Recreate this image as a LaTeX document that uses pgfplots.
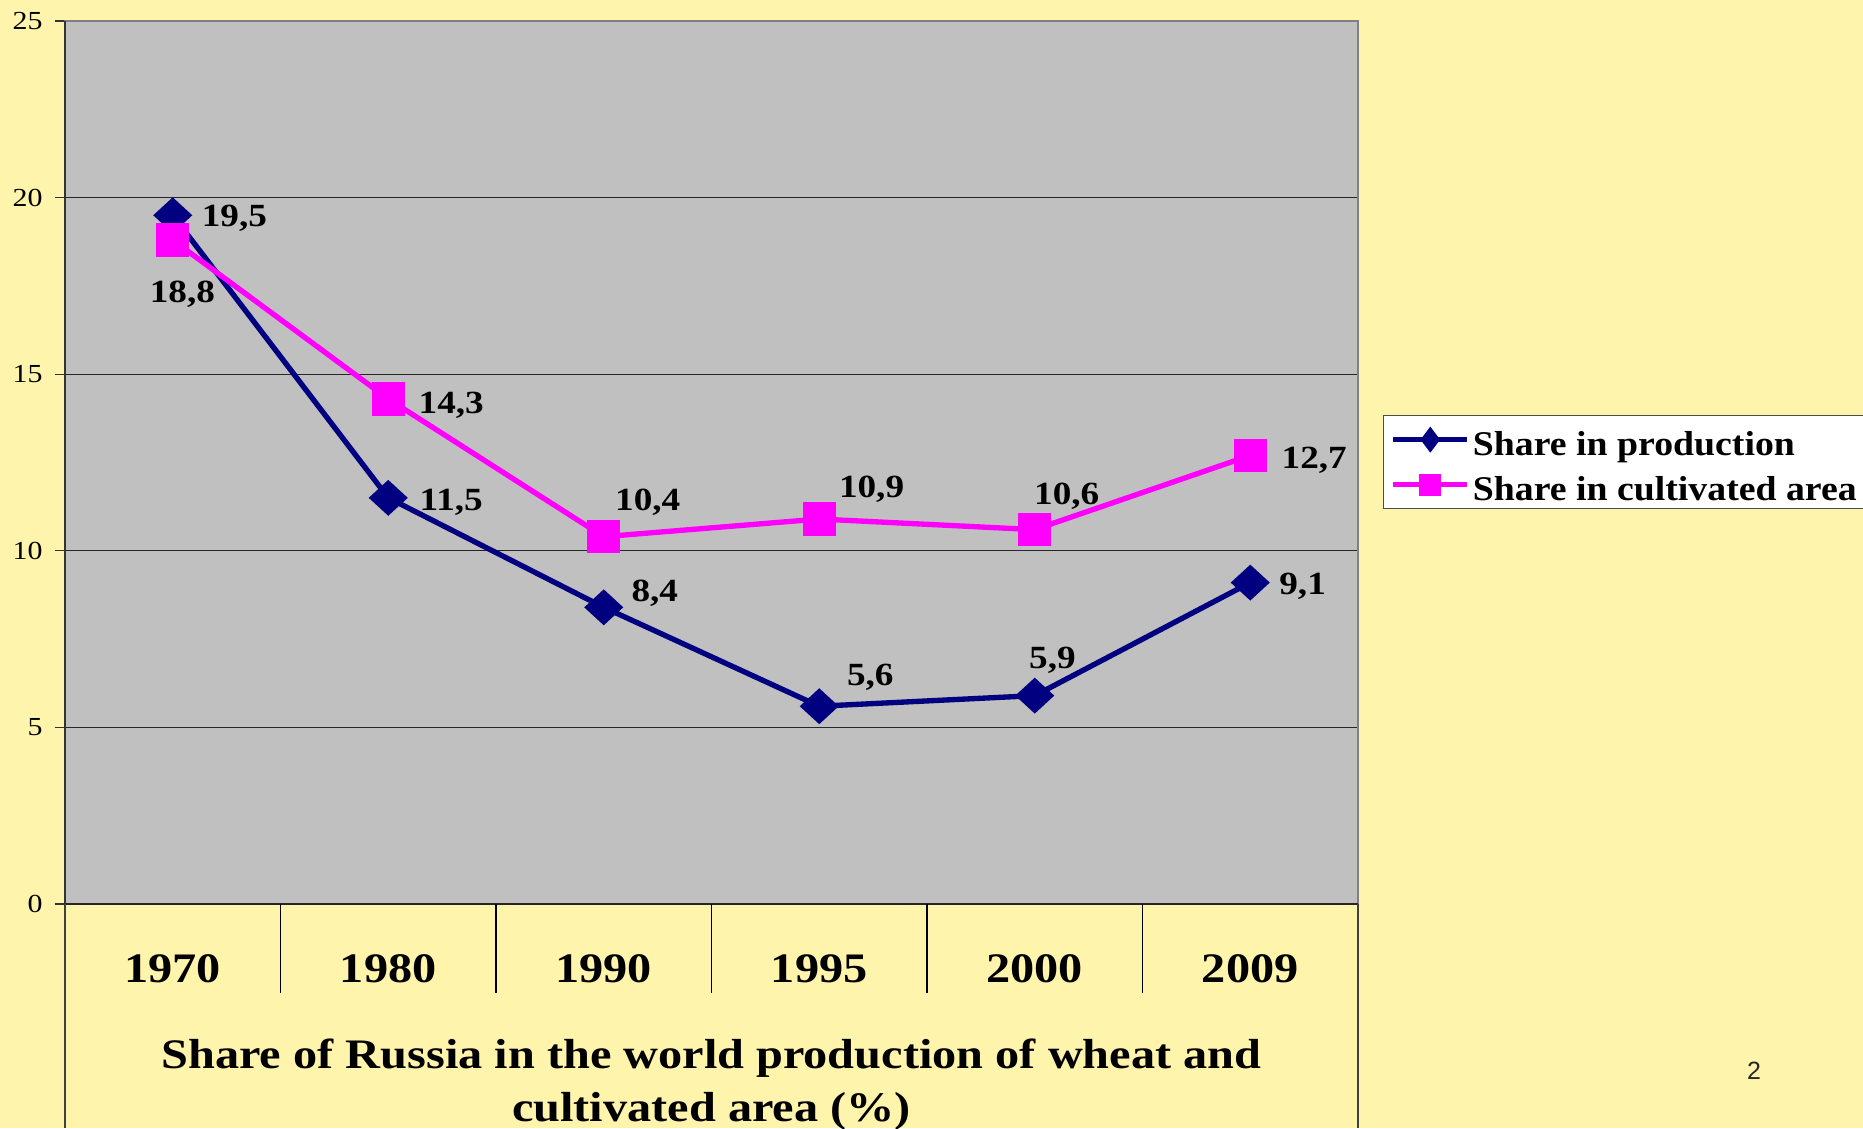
\documentclass[border=0pt]{standalone}
\usepackage{fontspec}
\setmainfont{Liberation Serif}[FakeStretch=1.15]
\newfontfamily\legfont{Liberation Serif}[FakeStretch=1.09]
\newfontfamily\sansf{Liberation Sans}
\usepackage{pgfplots}
\usepackage{pgfplotstable}
\pgfplotsset{compat=1.18}
\definecolor{bgy}{HTML}{FFF4AC}
\definecolor{plotgray}{HTML}{C0C0C0}
\definecolor{navyc}{HTML}{000080}
\definecolor{magc}{HTML}{FF00FF}

\pgfplotstableread{
x y lab dx dy
0 19.5 19,5 18.5 -1.0
1 11.5 11,5 18.9 -1.4
2 8.4 8,4 15.3 4.3
3 5.6 5,6 15.3 8.6
4 5.9 5,9 5.3 10.7
5 9.1 9,1 15.7 -1.1
}\prodtab
\pgfplotstableread{
x y lab dx dy
0 18.8 18,8 2.9 -16.4
1 14.3 14,3 18.9 -1.8
2 10.4 10,4 13.2 10.3
3 10.9 10,9 15.7 8.9
4 10.6 10,6 9.6 10.0
5 12.7 12,7 19.2 -1.4
}\areatab

\begin{document}
\begin{tikzpicture}
\useasboundingbox (-19.5pt,-67.2pt) rectangle (539.4pt,271.2pt);
\fill[bgy] (-19.5pt,-67.2pt) rectangle (539.4pt,271.2pt);
\begin{axis}[
  at={(0,0)}, anchor=south west,
  scale only axis, width=387.9pt, height=264.9pt,
  xmin=-0.5, xmax=5.5, ymin=0, ymax=25,
  xtick={0,...,5}, xticklabels={1970,1980,1990,1995,2000,2009},
  ytick={0,5,...,25},
  axis background/.style={fill=plotgray},
  axis line style={draw=black!50, line width=0.6pt},
  ymajorgrids, major grid style={draw=black!85, line width=0.4pt},
  major x tick style={draw=none},
  ytick pos=left, tick align=outside, major tick length=3pt,
  major y tick style={draw=black!80, line width=0.4pt},
  /pgf/number format/assume math mode=true,
  yticklabel style={font=\fontsize{7.8}{9}\selectfont, xshift=-0.2pt},
  xticklabel style={font=\bfseries\fontsize{12.6}{15}\selectfont, anchor=center, yshift=-16.3pt},
  clip=false,
  legend style={at={(1.0193,0.5538)}, anchor=north west, draw=black!70, fill=white,
    font=\legfont\bfseries\fontsize{10.4}{12.6}\selectfont, inner xsep=2.1pt, inner ysep=1.4pt,
    row sep=1.9pt,
    nodes={inner xsep=0.9pt, inner ysep=1pt, text height=9.6pt, text depth=0pt}},
  legend cell align=left,
  legend image code/.code={\draw[mark repeat=2,mark phase=2,#1,mark options={scale=0.6}] plot coordinates {(0cm,0cm)(0.39cm,0cm)(0.78cm,0cm)};},
  nodes near coords,
  point meta=explicit symbolic,
  every node near coord/.append style={font=\bfseries\fontsize{9.7}{11}\selectfont, text=black},
]
\addplot[navyc, line width=1.6pt, mark=diamond*, mark size=4.3pt, mark options={xscale=1.45, fill=navyc, solid},
  visualization depends on={\thisrow{dx}\as\dx},
  visualization depends on={\thisrow{dy}\as\dy},
  nodes near coords style={anchor=center, xshift=\dx pt, yshift=\dy pt}]
  table[x=x, y=y, meta=lab] {\prodtab};
\addlegendentry{Share in production}
\addplot[magc, line width=1.6pt, mark=square*, mark size=4.2pt, mark options={fill=magc, solid},
  visualization depends on={\thisrow{dx}\as\dx},
  visualization depends on={\thisrow{dy}\as\dy},
  nodes near coords style={anchor=center, xshift=\dx pt, yshift=\dy pt}]
  table[x=x, y=y, meta=lab] {\areatab};
\addlegendentry{Share in cultivated area}
\end{axis}
% left and bottom axis lines
\draw[black!80, line width=0.6pt] (0,0) -- (0,264.9pt);
\draw[black!85, line width=0.6pt] (0,0) -- (387.9pt,0);
% category separators
\foreach \k in {1,...,5} {
  \draw[black, line width=0.4pt] (\k*64.65pt,0) -- (\k*64.65pt,-26.7pt);
}
\draw[black!75, line width=0.6pt] (0,0) -- (0,-67.2pt);
\draw[black!75, line width=0.6pt] (387.9pt,0) -- (387.9pt,-67.2pt);
% title
\node[anchor=base, font=\bfseries\fontsize{12.6}{15}\selectfont] at (193.95pt,-49.2pt) {Share of Russia in the world production of wheat and};
\node[anchor=base, font=\bfseries\fontsize{12.6}{15}\selectfont] at (193.95pt,-65.1pt) {cultivated area (\%)};
% page number
\node[font=\sansf\fontsize{7.5}{9}\selectfont, text=black!85] at (506.7pt,-50.1pt) {2};
\end{tikzpicture}
\end{document}
